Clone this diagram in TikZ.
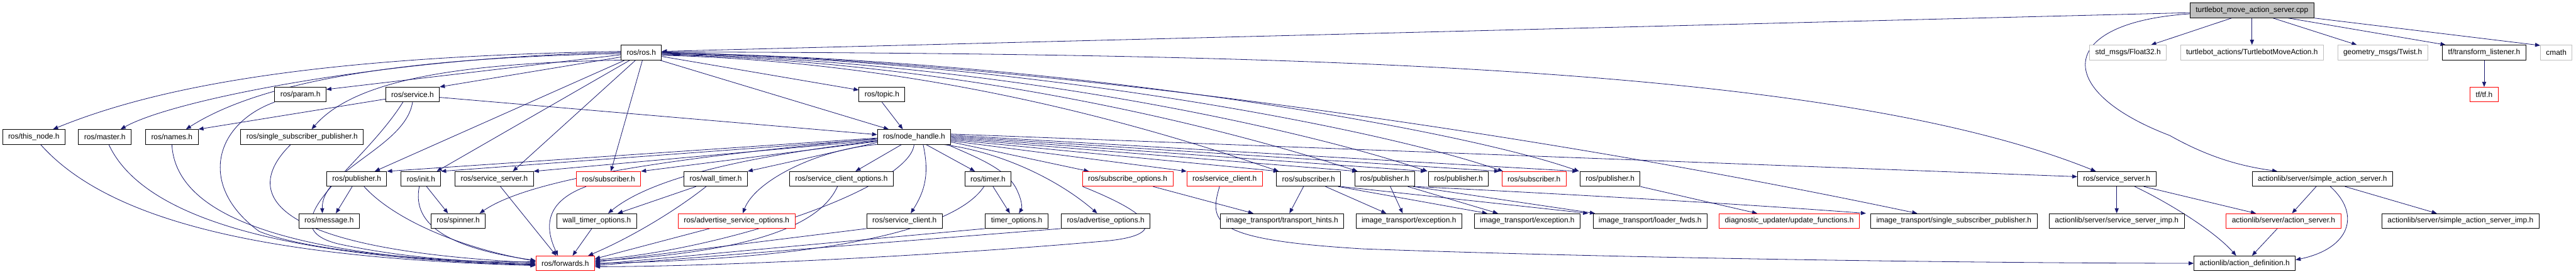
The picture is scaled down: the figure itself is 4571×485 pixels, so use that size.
\documentclass[tikz,border=0pt]{standalone}
\usepackage{fontspec}
\setmainfont{Liberation Sans}
\usetikzlibrary{arrows.meta}
\definecolor{edgeblue}{HTML}{191970}
\definecolor{extgray}{HTML}{BFBFBF}
\pgfdeclarelayer{edgelayer}
\pgfsetlayers{edgelayer,main}
\begin{document}
\begin{tikzpicture}[x=1pt,y=-1pt,
  box/.style={draw=black, line width=1pt, fill=white, minimum height=26pt, inner xsep=10pt, inner ysep=0pt, font=\fontsize{13.3}{15}\selectfont, text=black},
  redbox/.style={box, draw=red},
  extbox/.style={box, draw=extgray},
  topbox/.style={box, fill=extgray},
  edge/.style={draw=edgeblue, line width=0.9pt, -{Triangle[length=9pt,width=7pt]}}]
\useasboundingbox (0,0) rectangle (4571,485);
% row 0
\node[topbox] (cpp) at (3996,18.5) {turtlebot\_move\_action\_server.cpp};
% row 1
\node[box] (rosh) at (1138,93) {ros/ros.h};
\node[extbox] (f32) at (3776,93) {std\_msgs/Float32.h};
\node[extbox] (tma) at (3996,93) {turtlebot\_actions/TurtlebotMoveAction.h};
\node[extbox] (twist) at (4228,93) {geometry\_msgs/Twist.h};
\node[box] (tfl) at (4408,93) {tf/transform\_listener.h};
\node[extbox] (cmath) at (4536,93) {cmath};
% row 2
\node[box] (param) at (533,167.5) {ros/param.h};
\node[box] (service) at (732,167.5) {ros/service.h};
\node[box] (topic) at (1565,167.5) {ros/topic.h};
\node[redbox] (tftf) at (4408,167.5) {tf/tf.h};
% row 3
\node[box] (thisnode) at (60,242.5) {ros/this\_node.h};
\node[box] (master) at (186,242.5) {ros/master.h};
\node[box] (names) at (305,242.5) {ros/names.h};
\node[box] (ssp) at (536,242.5) {ros/single\_subscriber\_publisher.h};
\node[box] (nh) at (1622,242.5) {ros/node\_handle.h};
% row 4
\node[box] (pubA) at (633,317) {ros/publisher.h};
\node[box] (init) at (747,317) {ros/init.h};
\node[box] (ssA) at (877,317) {ros/service\_server.h};
\node[redbox] (subRA) at (1080,317) {ros/subscriber.h};
\node[box] (walltimer) at (1270,317) {ros/wall\_timer.h};
\node[box] (sco) at (1493,317) {ros/service\_client\_options.h};
\node[box] (timer) at (1753,317) {ros/timer.h};
\node[redbox] (subopts) at (2001,317) {ros/subscribe\_options.h};
\node[redbox] (scR) at (2173,317) {ros/service\_client.h};
\node[box] (subB) at (2322,317) {ros/subscriber.h};
\node[box] (pubB) at (2457,317) {ros/publisher.h};
\node[box] (pubC) at (2588,317) {ros/publisher.h};
\node[redbox] (subRB) at (2722,317) {ros/subscriber.h};
\node[box] (pubD) at (2857,317) {ros/publisher.h};
\node[box] (ssB) at (3756,317) {ros/service\_server.h};
\node[box] (sas) at (4121,317) {actionlib/server/simple\_action\_server.h};
% row 5
\node[box] (message) at (584,391.5) {ros/message.h};
\node[box] (spinner) at (813,391.5) {ros/spinner.h};
\node[box] (wto) at (1059,391.5) {wall\_timer\_options.h};
\node[redbox] (aso) at (1307,391.5) {ros/advertise\_service\_options.h};
\node[box] (sc) at (1605,391.5) {ros/service\_client.h};
\node[box] (topts) at (1804,391.5) {timer\_options.h};
\node[box] (aopts) at (1962,391.5) {ros/advertise\_options.h};
\node[box] (thints) at (2275,391.5) {image\_transport/transport\_hints.h};
\node[box] (excA) at (2500,391.5) {image\_transport/exception.h};
\node[box] (excB) at (2710,391.5) {image\_transport/exception.h};
\node[box] (loader) at (2928,391.5) {image\_transport/loader\_fwds.h};
\node[redbox] (upd) at (3175,391.5) {diagnostic\_updater/update\_functions.h};
\node[box] (itssp) at (3467,391.5) {image\_transport/single\_subscriber\_publisher.h};
\node[box] (ssimp) at (3756,391.5) {actionlib/server/service\_server\_imp.h};
\node[redbox] (aserver) at (4052,391.5) {actionlib/server/action\_server.h};
\node[box] (sasimp) at (4366,391.5) {actionlib/server/simple\_action\_server\_imp.h};
% row 6
\node[redbox] (fwd) at (1003,466.5) {ros/forwards.h};
\node[box] (adef) at (3983,466.5) {actionlib/action\_definition.h};

\begin{pgfonlayer}{edgelayer}
% ---- edges from the .cpp
\draw[edge] ([yshift=-4pt]cpp.west) -- ([yshift=2pt]rosh.east);
\draw[edge] ([xshift=-36pt]cpp.south) -- ([xshift=41pt]f32.north);
\draw[edge] (cpp.south) -- (tma.north);
\draw[edge] ([xshift=37pt]cpp.south) -- ([xshift=-46pt]twist.north);
\draw[edge] ([xshift=64pt]cpp.south) -- ([xshift=6pt]tfl.north west);
\draw[edge] (cpp.south east) -- ([yshift=-1pt]cmath.north west);
\draw[edge] ([yshift=-6pt]cpp.west) .. controls (3650,40) and (3640,160) .. (3850,240) .. controls (3930,285) and (3990,296) .. ([xshift=-80pt]sas.north);
\draw[edge] (tfl.south) -- (tftf.north);

% ---- ros/ros.h fan-out
\draw[edge] ([yshift=2pt]rosh.west) .. controls (600,100) and (300,145) .. ([xshift=34pt]thisnode.north);
\draw[edge] ([yshift=0pt]rosh.west) .. controls (700,100) and (310,175) .. ([xshift=28pt]master.north);
\draw[edge] ([yshift=-2pt]rosh.west) .. controls (850,100) and (500,120) .. ([xshift=25pt]names.north);
\draw[edge] ([yshift=-4pt]rosh.west) -- ([yshift=9pt]param.east);
\draw[edge] ([yshift=-8pt]rosh.west) -- (service.north east);
\draw[edge] (rosh.south west) .. controls (820,112) and (630,140) .. ([xshift=17pt]ssp.north);
\draw[edge] ([xshift=-29pt]rosh.south) -- ([xshift=32pt]pubA.north);
\draw[edge] ([xshift=-20pt]rosh.south) -- ([xshift=28pt]init.north);
\draw[edge] ([xshift=-10pt]rosh.south) -- ([xshift=33pt]ssA.north);
\draw[edge] ([xshift=2pt]rosh.south) -- ([xshift=4pt]subRA.north);
\draw[edge] ([yshift=-7pt]rosh.east) -- ([yshift=8pt]topic.west);
\draw[edge] ([xshift=-4pt]rosh.south east) -- ([xshift=-45pt]nh.north);
\draw[edge] ([yshift=-5pt]rosh.east) .. controls (1650,110) and (2040,225) .. ([xshift=-53pt]subB.north);
\draw[edge] ([yshift=-4pt]rosh.east) .. controls (1700,108) and (2170,225) .. ([xshift=-48pt]pubB.north);
\draw[edge] ([yshift=-3pt]rosh.east) .. controls (1750,106) and (2300,225) .. ([xshift=-55pt]pubC.north);
\draw[edge] ([yshift=-2pt]rosh.east) .. controls (1800,104) and (2440,225) .. ([xshift=-55pt]subRB.north);
\draw[edge] ([yshift=-1pt]rosh.east) .. controls (1850,102) and (2580,225) .. ([xshift=-55pt]pubD.north);
\draw[edge] (rosh.east) .. controls (1800,105) and (2700,230) .. ([xshift=-65pt]itssp.north);
\draw[edge] ([yshift=1pt]rosh.east) .. controls (2300,95) and (3250,115) .. ([xshift=-37pt]ssB.north);

% ---- ros/service.h
\draw[edge] ([yshift=-8pt]service.west) -- (names.north east);
\draw[edge] ([yshift=-5pt]service.east) -- ([yshift=4pt]nh.west);
\draw[edge] (service.south) .. controls (720,260) and (570,300) .. ([xshift=-12pt]message.north);
\draw[edge] ([xshift=-17pt]service.south) .. controls (640,300) and (470,400) .. (600,432) .. controls (720,458) and (850,466) .. ([yshift=3pt]fwd.west);
\draw[edge] (topic.south) -- ([xshift=-20pt]nh.north);

% ---- into ros/forwards.h from the left
\draw[edge] ([xshift=12pt]thisnode.south) .. controls (200,400) and (500,458) .. ([yshift=-4pt]fwd.west);
\draw[edge] ([xshift=7pt]master.south) .. controls (260,400) and (550,458) .. ([yshift=-3pt]fwd.west);
\draw[edge] (names.south) .. controls (310,350) and (420,455) .. ([yshift=-2pt]fwd.west);
\draw[edge] (param.south west) .. controls (380,220) and (350,330) .. (460,410) .. controls (560,450) and (800,462) .. ([yshift=-1pt]fwd.west);
\draw[edge] ([xshift=-20pt]ssp.south) .. controls (440,330) and (440,440) .. ([yshift=1pt]fwd.west);
\draw[edge] ([xshift=13pt]pubA.south) .. controls (700,390) and (820,440) .. ([yshift=4pt]fwd.west);
\draw[edge] ([xshift=-8pt]pubA.south) -- ([xshift=12pt]message.north);
\draw[edge] ([xshift=-3pt]init.south) .. controls (730,400) and (800,440) .. ([yshift=5pt]fwd.west);
\draw[edge] ([xshift=10pt]init.south) -- ([xshift=-18pt]spinner.north);
\draw[edge] ([xshift=11pt]ssA.south) -- ([xshift=-16pt]fwd.north);
\draw[edge] ([xshift=-40pt]subRA.south) .. controls (960,360) and (970,410) .. ([xshift=-13pt]fwd.north);
\draw[edge] ([xshift=-9pt]wto.south) -- ([xshift=13pt]fwd.north);
\draw[edge] ([xshift=-35pt]walltimer.south) -- ([xshift=37pt]wto.north);
\draw[edge] ([xshift=-17pt]walltimer.south) .. controls (1190,380) and (1110,425) .. ([xshift=-12pt]fwd.north east);

% ---- ros/node_handle.h fan-out (left)
\draw[edge] ([yshift=-2pt]nh.west) -- (pubA.north east);
\draw[edge] ([yshift=-4pt]nh.west) -- (init.north east);
\draw[edge] ([yshift=-6pt]nh.west) -- (ssA.north east);
\draw[edge] ([yshift=-8pt]nh.west) -- (subRA.north east);
\draw[edge] ([yshift=-3pt]nh.west) .. controls (1250,275) and (950,310) .. ([xshift=38pt]spinner.north);
\draw[edge] ([yshift=-10pt]nh.west) -- (walltimer.north east);
\draw[edge] ([yshift=-7pt]nh.west) .. controls (1300,280) and (1150,320) .. ([xshift=20pt]wto.north);
\draw[edge] (nh.south west) .. controls (1450,265) and (1340,320) .. ([xshift=11pt]aso.north);
\draw[edge] ([xshift=-22pt]nh.south) -- ([xshift=25pt]sco.north);
\draw[edge] (nh.south) .. controls (1615,330) and (1300,440) .. ([yshift=6pt]fwd.east);
\draw[edge] ([xshift=16pt]nh.south) .. controls (1650,310) and (1640,340) .. ([xshift=11pt]sc.north);
\draw[edge] ([xshift=21pt]nh.south) -- ([xshift=-23pt]timer.north);
\draw[edge] ([xshift=59pt]nh.south) .. controls (1735,280) and (1790,300) .. (1806,340) .. controls (1815,360) and (1813,370) .. ([xshift=4pt]topts.north);
\draw[edge] ([xshift=52pt]nh.south) .. controls (1780,270) and (1880,320) .. ([xshift=-15pt]aopts.north);

% ---- ros/node_handle.h fan-out (right)
\draw[edge] ([yshift=-9pt]nh.east) -- ([xshift=12pt]subopts.north west);
\draw[edge] ([yshift=-7pt]nh.east) -- (scR.north west);
\draw[edge] ([yshift=-5pt]nh.east) -- ([xshift=4pt]subB.north west);
\draw[edge] ([yshift=-3pt]nh.east) -- ([xshift=5pt]pubB.north west);
\draw[edge] ([yshift=-1pt]nh.east) -- ([xshift=-4pt]pubC.north west);
\draw[edge] ([yshift=1pt]nh.east) -- ([xshift=-4pt]subRB.north west);
\draw[edge] ([yshift=3pt]nh.east) -- ([xshift=-4pt]pubD.north west);
\draw[edge] ([yshift=5pt]nh.east) -- ([yshift=4pt]ssB.west);

% ---- into ros/forwards.h from the right
\draw[edge] ([xshift=-48pt]aso.south) -- ([yshift=8pt]fwd.east);
\draw[edge] ([xshift=-7pt]sco.south) .. controls (1450,410) and (1300,448) .. ([yshift=4pt]fwd.east);
\draw[edge] (sc.south west) -- ([yshift=2pt]fwd.east);
\draw[edge] ([xshift=-7pt]timer.south) .. controls (1700,400) and (1500,458) .. (fwd.east);
\draw[edge] ([xshift=9pt]timer.south) -- ([xshift=-12pt]topts.north);
\draw[edge] (topts.south west) -- ([yshift=-2pt]fwd.east);
\draw[edge] (aopts.south west) -- ([yshift=-4pt]fwd.east);
\draw[edge] ([xshift=-80pt]subopts.south) .. controls (2070,390) and (2060,420) .. (1950,428) .. controls (1700,450) and (1300,472) .. ([yshift=-6pt]fwd.east);

% ---- image_transport side
\draw[edge] ([xshift=45pt]subopts.south) -- ([xshift=-51pt]thints.north);
\draw[edge] ([xshift=-9pt]scR.south) .. controls (2145,395) and (2150,425) .. (2420,441) .. controls (2900,458) and (3500,466) .. (adef.west);
\draw[edge] ([xshift=-9pt]subB.south) -- ([xshift=13pt]thints.north);
\draw[edge] ([xshift=30pt]subB.south) -- ([xshift=-40pt]excA.north);
\draw[edge] ([xshift=-5pt]subB.south east) -- ([xshift=-71pt]excB.north);
\draw[edge] (subB.south east) -- ([xshift=-8pt]loader.north west);
\draw[edge] ([xshift=10pt]pubB.south) -- ([xshift=-11pt]excA.north);
\draw[edge] ([xshift=41pt]pubB.south) -- ([xshift=-52pt]excB.north);
\draw[edge] ([xshift=-3pt]pubB.south east) -- ([xshift=4pt]loader.north west);
\draw[edge] (pubB.south east) .. controls (2800,345) and (3100,362) .. ([xshift=-8pt]itssp.north west);
\draw[edge] (pubD.south east) -- ([xshift=-57pt]upd.north);

% ---- actionlib side
\draw[edge] (ssB.south) -- (ssimp.north);
\draw[edge] ([xshift=48pt]ssB.south) -- ([xshift=-49pt]aserver.north);
\draw[edge] ([xshift=32pt]ssB.south) .. controls (3850,360) and (3930,410) .. ([xshift=-15pt]adef.north);
\draw[edge] ([xshift=-11pt]sas.south) -- ([xshift=15pt]aserver.north);
\draw[edge] ([xshift=14pt]sas.south) .. controls (4190,380) and (4170,440) .. ([yshift=6pt]adef.east);
\draw[edge] ([xshift=40pt]sas.south) -- ([xshift=-42pt]sasimp.north);
\draw[edge] ([xshift=-11pt]aserver.south) -- ([xshift=13pt]adef.north);
\end{pgfonlayer}
\end{tikzpicture}
\end{document}
